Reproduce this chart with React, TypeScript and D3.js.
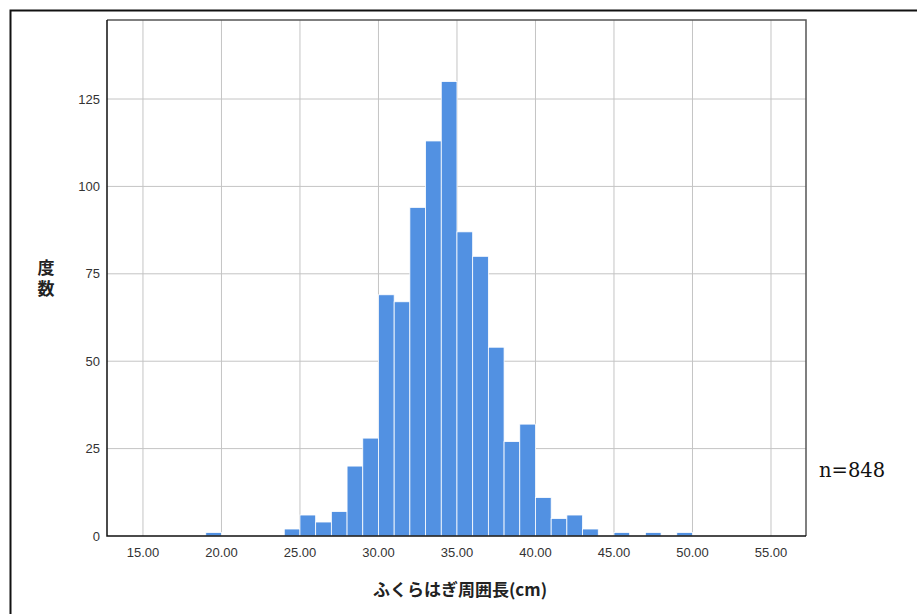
import React from "react";
import * as d3 from "d3";

const binStarts = [19, 24, 25, 26, 27, 28, 29, 30, 31, 32, 33, 34, 35, 36, 37, 38, 39, 40, 41, 42, 43, 45, 47, 49];
const counts = [1, 2, 6, 4, 7, 20, 28, 69, 67, 94, 113, 130, 87, 80, 54, 27, 32, 11, 5, 6, 2, 1, 1, 1];
const binWidth = 1;
const xTicks = [15, 20, 25, 30, 35, 40, 45, 50, 55];
const yTicks = [0, 25, 50, 75, 100, 125];
const xTitle = "ふくらはぎ周囲長(cm)";
const yTitle = "度数";
const note = "n=848";

export default function App() {
  const W = 917, H = 614;
  const L = 107, R = 806, T = 20, B = 536;
  const x = d3.scaleLinear().domain([12.71, 57.23]).range([L, R]);
  const y = d3.scaleLinear().domain([0, 147.6]).range([B, T]);
  const sans = "'Liberation Sans', Arial, sans-serif";
  return (
    <svg width={W} height={H} style={{ position: "absolute", left: 0, top: 0, background: "#fff" }}>
      <rect x={0} y={0} width={W} height={H} fill="#fff" />
      <path d={`M10.5,${H} V10.5 H${W}`} fill="none" stroke="#111" strokeWidth={2} />
      {xTicks.map((t) => (
        <line key={"gx" + t} x1={x(t)} x2={x(t)} y1={T} y2={B} stroke="#c4c4c4" strokeWidth={1} />
      ))}
      {yTicks.filter((t) => t > 0).map((t) => (
        <line key={"gy" + t} x1={L} x2={R} y1={y(t)} y2={y(t)} stroke="#c4c4c4" strokeWidth={1} />
      ))}
      {binStarts.map((s, i) => (
        <rect
          key={"b" + i}
          x={x(s)}
          y={y(counts[i])}
          width={x(s + binWidth) - x(s)}
          height={y(0) - y(counts[i])}
          fill="#5291e2"
          stroke="#ffffff"
          strokeWidth={0.8}
        />
      ))}
      <path d={`M${L},${T} H${R} V${B}`} fill="none" stroke="#555" strokeWidth={1.5} />
      <path d={`M${L},${T} V${B} H${R}`} fill="none" stroke="#111" strokeWidth={1.5} />
      {yTicks.map((t) => (
        <text key={"yl" + t} x={L - 7} y={y(t)} dy="0.35em" textAnchor="end" fontFamily={sans} fontSize={13} fill="#333">
          {t}
        </text>
      ))}
      {xTicks.map((t) => (
        <text key={"xl" + t} x={x(t)} y={B + 21} textAnchor="middle" fontFamily={sans} fontSize={13} fill="#333">
          {t.toFixed(2)}
        </text>
      ))}
      <text
        x={46}
        y={280}
        textAnchor="middle"
        fontFamily="'Noto Sans CJK JP', sans-serif"
        fontWeight="bold"
        fontSize={17}
        fill="#222"
        style={{ writingMode: "vertical-rl", letterSpacing: "4px" }}
      >
        {yTitle}
      </text>
      <text x={460} y={596} textAnchor="middle" fontFamily="'Noto Sans CJK JP', sans-serif" fontWeight="bold" fontSize={17} fill="#222">
        {xTitle}
      </text>
      <text x={819} y={477} fontFamily="'DejaVu Serif', 'Liberation Serif', serif" fontSize={19.5} fill="#111">
        {note}
      </text>
    </svg>
  );
}
